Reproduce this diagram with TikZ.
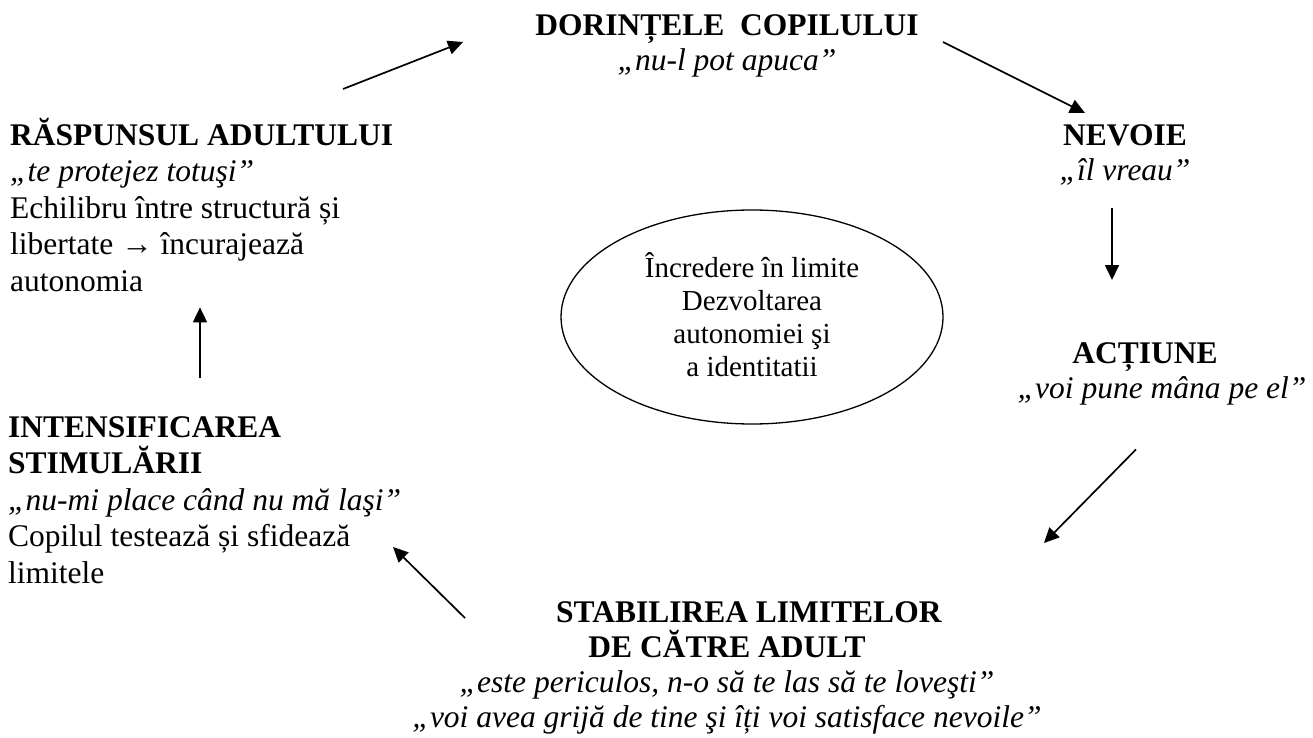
\documentclass[tikz,border=0pt]{standalone}
\usepackage{fontspec}
\setmainfont{Liberation Serif}
\usetikzlibrary{arrows.meta,shapes.geometric}
\newcommand\topline{\rule{0pt}{30pt}}

\begin{document}
\begin{tikzpicture}[x=1pt,y=-1pt,
  bloc/.style={inner sep=0pt,font=\fontsize{31.5}{35}\selectfont},
  stanga/.style={bloc,align=left,anchor=north west,font=\fontsize{31.5}{36.5}\selectfont},
  centrat/.style={bloc,align=center,anchor=north},
  sageata/.style={line width=1.7pt,-{Triangle[length=15pt,width=14pt]}}]
  \useasboundingbox (0,0) rectangle (1313,738);
  \node[centrat] (dorinte) at (727,5) {\topline\textbf{DORINȚELE\ \ COPILULUI}\\\textit{„nu-l pot apuca”}\strut};
  \node[centrat] (nevoie) at (1125,115) {\topline\textbf{NEVOIE}\\\textit{„îl vreau”}\strut};
  \node[centrat] (actiune) at (1162,333) {\topline\textbf{ACȚIUNE}\hspace*{34pt}\\\textit{„voi pune mâna pe el”}\strut};
  \node[centrat] (limite) at (727,592) {\hspace*{44pt}\topline\textbf{STABILIREA LIMITELOR}\\\textbf{DE CĂTRE ADULT}\\\textit{„este periculos, n-o să te las să te loveşti”}\\\textit{„voi avea grijă de tine şi îți voi satisface nevoile”}\strut};
  \node[stanga] (intens) at (8,407) {\topline\textbf{INTENSIFICAREA}\\\textbf{STIMULĂRII}\\\textit{„nu-mi place când nu mă laşi”}\\Copilul testează și sfidează\\limitele\strut};
  \node[stanga] (raspuns) at (10,115) {\topline\textbf{RĂSPUNSUL ADULTULUI}\\\textit{„te protejez totuşi”}\\Echilibru între structură și\\libertate → încurajează\\autonomia\strut};
  \node[ellipse,draw,line width=1.3pt,minimum width=382pt,minimum height=214pt,inner sep=0pt,align=center,font=\fontsize{29}{33}\selectfont] (incredere) at (752,317) {\topline Încredere în limite\\Dezvoltarea\\autonomiei şi\\a identitatii\strut};
  \draw[sageata] ([xshift=333pt,yshift=26pt]raspuns.north west) -- ([xshift=-264pt,yshift=-37pt]dorinte.north);
  \draw[sageata] ([xshift=216pt,yshift=-37pt]dorinte.north) -- ([xshift=-40pt,yshift=2pt]nevoie.north);
  \draw[sageata] ([xshift=-13pt,yshift=-17.5pt]nevoie.south) -- ([xshift=-50pt,yshift=53pt]actiune.north);
  \draw[sageata] ([xshift=-26pt,yshift=-40.5pt]actiune.south) -- ([xshift=317pt,yshift=49pt]limite.north);
  \draw[sageata] ([xshift=-262pt,yshift=-26pt]limite.north) -- ([xshift=385pt,yshift=-140pt]intens.north west);
  \draw[sageata] ([xshift=192pt,yshift=29pt]intens.north west) -- ([xshift=190pt,yshift=-5pt]raspuns.south west);
\end{tikzpicture}
\end{document}
